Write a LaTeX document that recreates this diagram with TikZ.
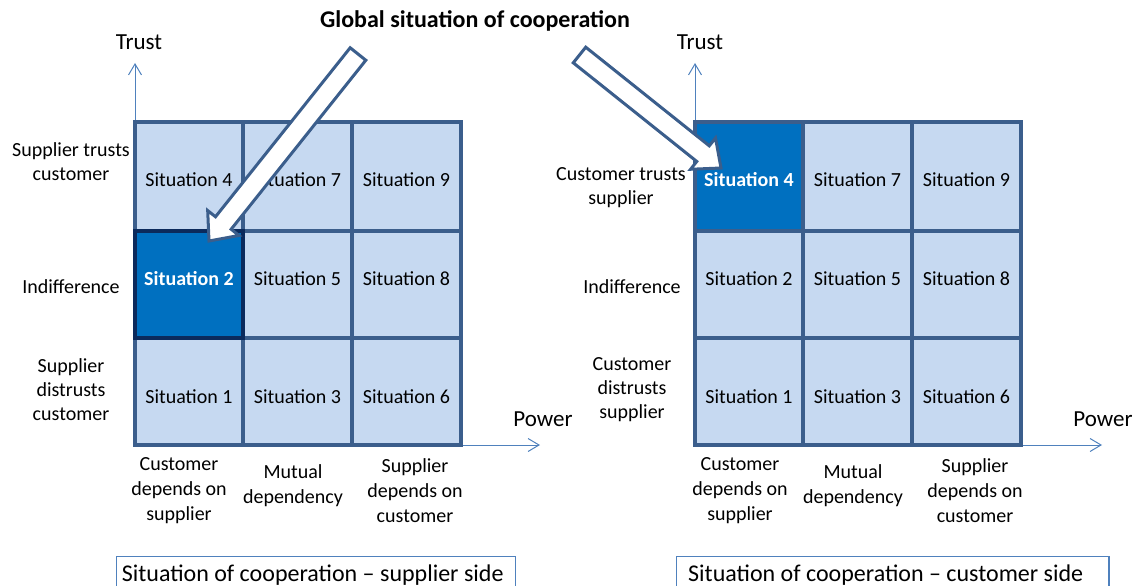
\documentclass[tikz,border=0pt]{standalone}
\usepackage{fontspec}
\setmainfont{Carlito}
\usetikzlibrary{arrows.meta,calc}
\definecolor{cellFill}{HTML}{C6D9F1}
\definecolor{cellEdge}{HTML}{3B5E8C}
\definecolor{cellDark}{HTML}{0070C0}
\definecolor{cellNavy}{HTML}{0B2A5C}
\definecolor{axisBlue}{HTML}{4F81BD}
\newcommand{\drawSituationGrid}[1]{%
  \fill [cellFill] (135,122) rectangle (461,445);
  \fill [cellDark] #1;
  \draw [gridEdge] (243,122) -- (243,445) (352,122) -- (352,445) (135,231) -- (461,231) (135,338) -- (461,338);
  \draw [gridEdge] (135,122) rectangle (461,445)}
\newcommand{\drawCoopArrow}[2]{%
  \coordinate (#2base) at ($(#2)!23pt!(#1)$);
  \draw [coopArrow] ($(#1)!10pt!90:(#2)$) -- ($(#2base)!10pt!90:(#2)$) -- ($(#2base)!20pt!90:(#2)$) -- (#2)
    -- ($(#2base)!20pt!-90:(#2)$) -- ($(#2base)!10pt!-90:(#2)$) -- ($(#1)!10pt!-90:(#2)$) -- cycle}

\begin{document}
\begin{tikzpicture}[x=1pt, y=-1pt,
    situation/.style={font=\fontsize{20}{24}\selectfont},
    situationHot/.style={font=\fontsize{20}{24}\selectfont\bfseries, text=white},
    sideLabel/.style={align=center, font=\fontsize{20}{24}\selectfont},
    footLabel/.style={align=center, font=\fontsize{20}{25}\selectfont},
    axisName/.style={font=\fontsize{23}{27}\selectfont},
    axisLine/.style={axisBlue, line width=1pt, -{Straight Barb[length=11pt,width=13pt]}},
    gridEdge/.style={cellEdge, line width=3.5pt},
    coopArrow/.style={cellEdge, line width=3pt, fill=white, line join=miter},
    sideBox/.style={axisBlue, line width=1.2pt}]
    \useasboundingbox (0,0) rectangle (1140,586);

    \node [font=\fontsize{24}{28}\selectfont\bfseries] (title) at (475,21) {Global situation of cooperation};

    % for supplier side
    \coordinate (originL) at (135,445);
    \coordinate (trustTipL) at (135,63);
    \coordinate (powerTipL) at (540,445);
    \draw [axisLine] (originL) -- (trustTipL);
    \draw [axisLine] (461,445) -- (powerTipL);
    \drawSituationGrid{(135,231) rectangle (243,338)};
    \draw [cellNavy, line width=3.5pt] (135,231) rectangle (243,338);
    \node [axisName] (trustL) at (139,42) {Trust};
    \node [axisName] (powerL) at (543,419) {Power};

    \foreach \n/\x/\y in {4/189/180, 7/297.5/180, 9/406.5/180, 5/297.5/279, 8/406.5/279, 1/189/397, 3/297.5/397, 6/406.5/397}
        \node [situation] (sitL\n) at (\x,\y) {Situation \n};
    \node [situationHot] (sitL2) at (189,279) {Situation 2};

    \node [sideLabel] (trustsL) at (71,162) {Supplier trusts\\customer};
    \node [sideLabel] (indiffL) at (71,287) {Indifference};
    \node [sideLabel] (distrustsL) at (71,390) {Supplier\\distrusts\\customer};

    \node [footLabel] (custDepL) at (179,491) {Customer\\depends on\\supplier};
    \node [footLabel] (mutualL) at (293,486) {Mutual\\dependency};
    \node [footLabel] (suppDepL) at (415,491) {Supplier\\depends on\\customer};

    \draw [sideBox] (116.7,590) |- (515.7,556.7) -- (515.7,590);
    \node [anchor=base west, inner sep=0pt, font=\fontsize{24}{28}\selectfont] (sideL) at (121.7,581) {Situation of cooperation -- supplier side};

    % for customer side
    \begin{scope}[shift={(560,0)}]
        \coordinate (originR) at (135,445);
        \coordinate (trustTipR) at (135,63);
        \coordinate (powerTipR) at (542,445);
        \draw [axisLine] (originR) -- (trustTipR);
        \draw [axisLine] (461,445) -- (powerTipR);
        \drawSituationGrid{(135,122) rectangle (243,231)};
        \node [axisName] (trustR) at (140,42) {Trust};
        \node [axisName] (powerR) at (543,419) {Power};

        \foreach \n/\x/\y in {7/297.5/180, 9/406.5/180, 2/189/279, 5/297.5/279, 8/406.5/279, 1/189/397, 3/297.5/397, 6/406.5/397}
            \node [situation] (sitR\n) at (\x,\y) {Situation \n};
        \node [situationHot] (sitR4) at (189,180) {Situation 4};

        \node [sideLabel] (trustsR) at (61,188) {Customer trusts\\supplier};
        \node [sideLabel] (indiffR) at (72,287) {Indifference};
        \node [sideLabel] (distrustsR) at (72,390) {Customer\\distrusts\\supplier};

        \node [footLabel] (custDepR) at (180,491) {Customer\\depends on\\supplier};
        \node [footLabel] (mutualR) at (293,486) {Mutual\\dependency};
        \node [footLabel] (suppDepR) at (415,491) {Supplier\\depends on\\customer};
    \end{scope}

    \draw [sideBox] (676.7,590) |- (1109,556.7) -- (1109,590);
    \node [anchor=base west, inner sep=0pt, font=\fontsize{24}{28}\selectfont] (sideR) at (688,581) {Situation of cooperation -- customer side};

    % global arrows
    \coordinate (tailL) at (358,54);
    \coordinate (tipL) at (209,241);
    \drawCoopArrow{tailL}{tipL};
    \coordinate (tailR) at (579.5,55);
    \coordinate (tipR) at (721,168);
    \drawCoopArrow{tailR}{tipR};
\end{tikzpicture}
\end{document}
